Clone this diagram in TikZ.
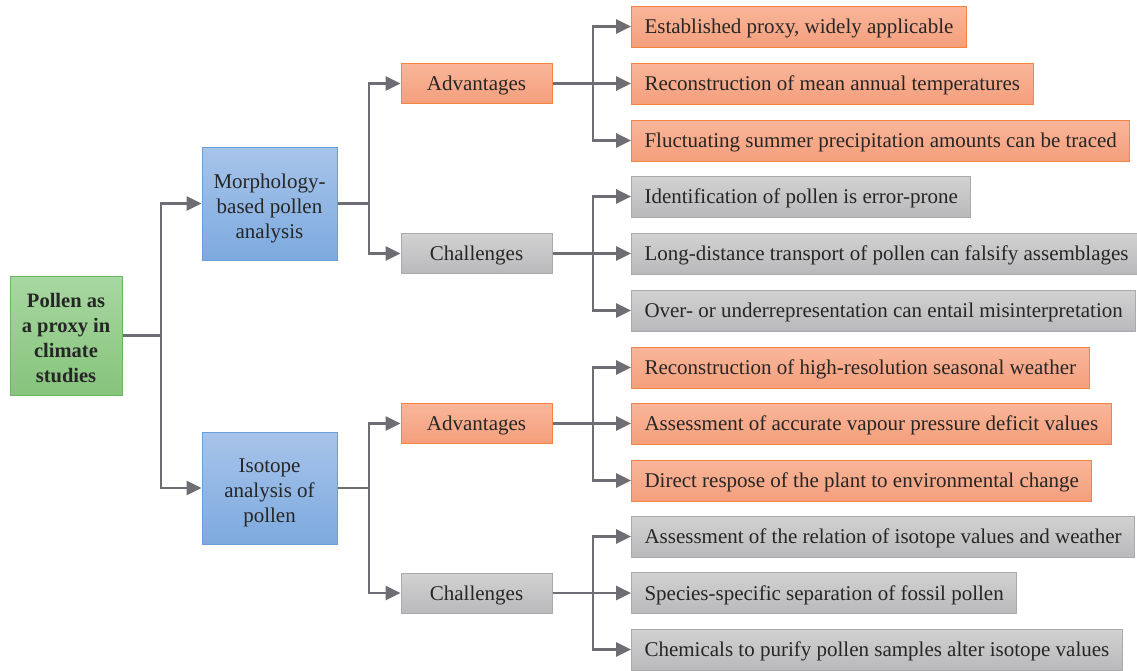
\documentclass[tikz,border=0pt]{standalone}
\usepackage{fontspec}
\setmainfont{Liberation Serif}
\usetikzlibrary{arrows.meta}

\definecolor{linegray}{HTML}{6E6D73}
\definecolor{orTop}{HTML}{F9B69A}
\definecolor{orBot}{HTML}{F49F7C}
\definecolor{orLine}{HTML}{F4843F}
\definecolor{grTop}{HTML}{D2D2D3}
\definecolor{grBot}{HTML}{B9B9BB}
\definecolor{grLine}{HTML}{AAAAAC}
\definecolor{blTop}{HTML}{A7C4EA}
\definecolor{blBot}{HTML}{7DAADF}
\definecolor{blLine}{HTML}{6A9ED8}
\definecolor{gnTop}{HTML}{A8D7A1}
\definecolor{gnBot}{HTML}{86C47C}
\definecolor{gnLine}{HTML}{6DB563}

% invisible struts that lower the first line of multi-line boxes
\newcommand\bluelift{\rule{0pt}{24pt}}
\newcommand\greenlift{\rule{0pt}{19pt}}

\begin{document}
\begin{tikzpicture}[x=1pt,y=-1pt,
  conn/.style={draw=linegray, line width=2.8pt},
  arr/.style={conn, -{Triangle[length=15pt,width=14pt]}},
  box/.style={line width=1pt, inner sep=0pt, align=center, text=black!85,
    font=\fontsize{21}{25}\selectfont},
  oneline/.style={text height=14pt, text depth=0pt},
  orangebox/.style={box, oneline, draw=orLine, top color=orTop, bottom color=orBot},
  graybox/.style={box, oneline, draw=grLine, top color=grTop, bottom color=grBot},
  bluebox/.style={box, draw=blLine, top color=blTop, bottom color=blBot,
    minimum width=135pt},
  greenbox/.style={box, draw=gnLine, top color=gnTop, bottom color=gnBot,
    font=\fontsize{20.5}{25}\selectfont\bfseries},
  midbox/.style={minimum width=151pt, minimum height=40pt},
  leaf/.style={anchor=west, minimum height=41pt, inner xsep=13pt}]

\useasboundingbox (0,0) rectangle (1137,670);

% root and second level
\node[greenbox, minimum width=112pt, minimum height=119pt] (root) at (66,335.5)
  {\greenlift Pollen as\\a proxy in\\climate\\studies};
\node[bluebox, minimum height=113pt] (morph) at (269.5,203.5)
  {\bluelift Morphology-\\based pollen\\analysis};
\node[bluebox, minimum height=112pt] (iso) at (269.5,488)
  {\bluelift Isotope\\analysis of\\pollen};

% third level
\node[orangebox, midbox] (adv1) at (476.5,83.5) {Advantages};
\node[graybox, midbox] (cha1) at (476.5,253.5) {Challenges};
\node[orangebox, midbox] (adv2) at (476.5,423.5) {Advantages};
\node[graybox, midbox] (cha2) at (476.5,593) {Challenges};

% leaves
\node[orangebox, leaf] (l1) at (631,26.5) {Established proxy, widely applicable};
\node[orangebox, leaf] (l2) at (631,83.5) {Reconstruction of mean annual temperatures};
\node[orangebox, leaf] (l3) at (631,140.5) {Fluctuating summer precipitation amounts can be traced};
\node[graybox, leaf] (l4) at (631,196.5) {Identification of pollen is error-prone};
\node[graybox, leaf] (l5) at (631,253.5) {Long-distance transport of pollen can falsify assemblages};
\node[graybox, leaf] (l6) at (631,310.5) {Over- or underrepresentation can entail misinterpretation};
\node[orangebox, leaf] (l7) at (631,367.5) {Reconstruction of high-resolution seasonal weather};
\node[orangebox, leaf] (l8) at (631,423.5) {Assessment of accurate vapour pressure deficit values};
\node[orangebox, leaf] (l9) at (631,480.5) {Direct respose of the plant to environmental change};
\node[graybox, leaf] (l10) at (631,536.5) {Assessment of the relation of isotope values and weather};
\node[graybox, leaf] (l11) at (631,593) {Species-specific separation of fossil pollen};
\node[graybox, leaf] (l12) at (631,649.5) {Chemicals to purify pollen samples alter isotope values};

% junction points
\coordinate (j0) at (161,335.5);
\coordinate (jm) at (369,203.5);
\coordinate (ji) at (369,488);
\coordinate (ja1) at (593,83.5);
\coordinate (jc1) at (593,253.5);
\coordinate (ja2) at (593,423.5);
\coordinate (jc2) at (593,593);

% connectors
\draw[conn] (root) -- (j0);
\draw[arr] (j0) |- (morph);
\draw[arr] (j0) |- (iso);

\draw[conn] (morph) -- (jm);
\draw[arr] (jm) |- (adv1);
\draw[arr] (jm) |- (cha1);
\draw[conn] (iso) -- (ji);
\draw[arr] (ji) |- (adv2);
\draw[arr] (ji) |- (cha2);

\draw[conn] (adv1) -- (ja1);
\draw[arr] (ja1) |- (l1);
\draw[arr] (ja1) -- (l2);
\draw[arr] (ja1) |- (l3);
\draw[conn] (cha1) -- (jc1);
\draw[arr] (jc1) |- (l4);
\draw[arr] (jc1) -- (l5);
\draw[arr] (jc1) |- (l6);
\draw[conn] (adv2) -- (ja2);
\draw[arr] (ja2) |- (l7);
\draw[arr] (ja2) -- (l8);
\draw[arr] (ja2) |- (l9);
\draw[conn] (cha2) -- (jc2);
\draw[arr] (jc2) |- (l10);
\draw[arr] (jc2) -- (l11);
\draw[arr] (jc2) |- (l12);
\end{tikzpicture}
\end{document}
